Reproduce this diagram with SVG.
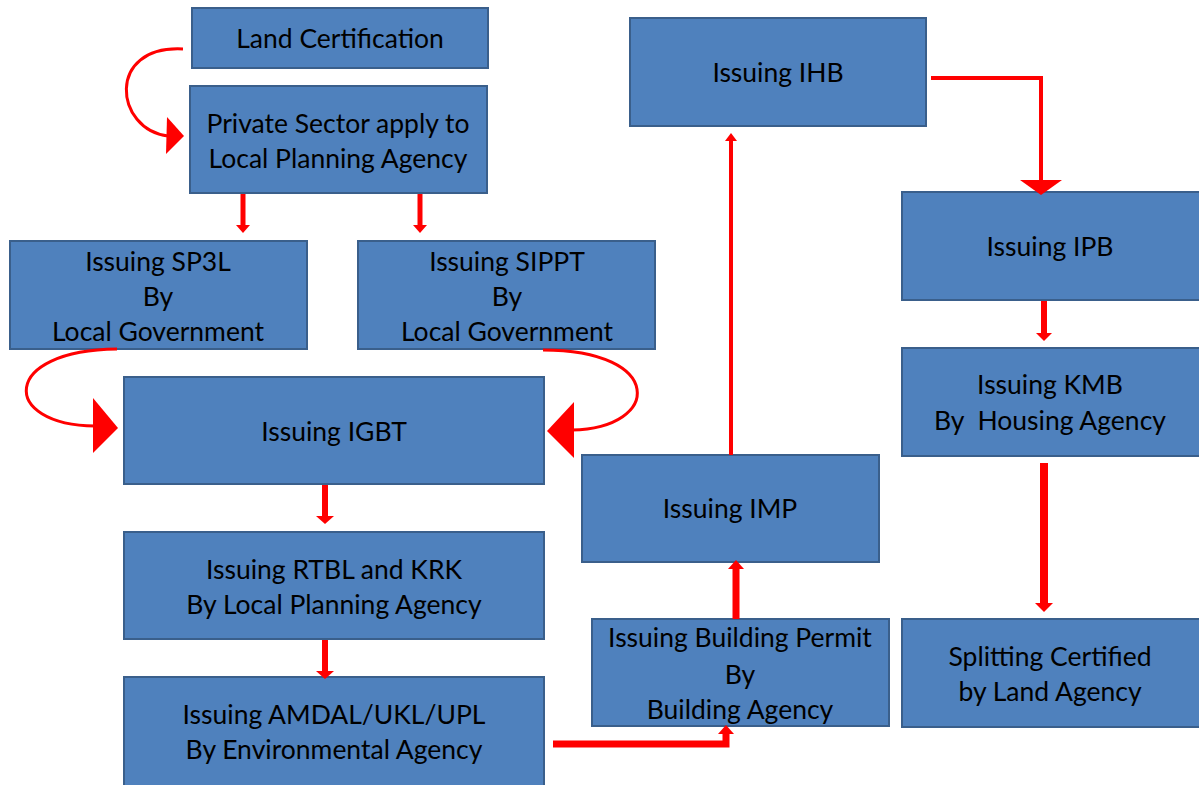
<svg xmlns="http://www.w3.org/2000/svg" width="1199" height="785" viewBox="0 0 1199 785">
<style>
.box{fill:#4F81BD;stroke:#3A5F8B;stroke-width:2}
.t{font-family:Lato,"Liberation Sans",sans-serif;font-size:26.5px;fill:#000;text-anchor:middle}
.ln{fill:none;stroke:#FF0000}
.hd{fill:#FF0000}
</style>
<rect width="1199" height="785" fill="#fff"/>
<g id="n-land"><rect class="box" x="192" y="8" width="296" height="60"/><text class="t" x="340" y="48">Land Certification</text></g>
<g id="n-private"><rect class="box" x="190" y="86" width="297" height="107"/><text class="t" x="338" y="133">Private Sector apply to</text><text class="t" x="338" y="168">Local Planning Agency</text></g>
<g id="n-sp3l"><rect class="box" x="10" y="241" width="297" height="108"/><text class="t" x="158" y="271">Issuing SP3L</text><text class="t" x="158" y="306">By</text><text class="t" x="158" y="341">Local Government</text></g>
<g id="n-sippt"><rect class="box" x="358" y="241" width="297" height="108"/><text class="t" x="507" y="271">Issuing SIPPT</text><text class="t" x="507" y="306">By</text><text class="t" x="507" y="341">Local Government</text></g>
<g id="n-igbt"><rect class="box" x="124" y="377" width="420" height="107"/><text class="t" x="334" y="441">Issuing IGBT</text></g>
<g id="n-rtbl"><rect class="box" x="124" y="532" width="420" height="107"/><text class="t" x="334" y="579">Issuing RTBL and KRK</text><text class="t" x="334" y="614">By Local Planning Agency</text></g>
<g id="n-amdal"><rect class="box" x="124" y="677" width="420" height="110"/><text class="t" x="334" y="724">Issuing AMDAL/UKL/UPL</text><text class="t" x="334" y="759">By Environmental Agency</text></g>
<g id="n-imp"><rect class="box" x="582" y="455" width="297" height="107"/><text class="t" x="730" y="518">Issuing IMP</text></g>
<g id="n-bp"><rect class="box" x="592" y="619" width="297" height="107"/><text class="t" x="740" y="647">Issuing Building Permit</text><text class="t" x="740" y="684">By</text><text class="t" x="740" y="719">Building Agency</text></g>
<g id="n-ihb"><rect class="box" x="630" y="18" width="296" height="108"/><text class="t" x="778" y="82">Issuing IHB</text></g>
<g id="n-ipb"><rect class="box" x="902" y="192" width="298" height="108"/><text class="t" x="1050" y="256">Issuing IPB</text></g>
<g id="n-kmb"><rect class="box" x="902" y="348" width="298" height="108"/><text class="t" x="1050" y="394">Issuing KMB</text><text class="t" x="1050" y="430" xml:space="preserve">By  Housing Agency</text></g>
<g id="n-split"><rect class="box" x="902" y="619" width="298" height="108"/><text class="t" x="1050" y="666">Splitting Certified</text><text class="t" x="1050" y="701">by Land Agency</text></g>
<g id="connectors">
<path class="ln" stroke-width="3" d="M183,49 C105,45 115,130 168,136"/>
<polygon class="hd" points="167,117 184,136 166,154"/>
<path class="ln" stroke-width="3" d="M117,349 C0,350 0,425 95,426"/>
<polygon class="hd" points="93,398 118,428 93,453"/>
<path class="ln" stroke-width="3" d="M543,350 C665,350 662,428 572,430"/>
<polygon class="hd" points="574,402 547,431 574,458"/>
<path class="ln" stroke-width="5" d="M243,194 V226"/>
<polygon class="hd" points="236,225 250,225 243,233"/>
<path class="ln" stroke-width="5" d="M420,194 V226"/>
<polygon class="hd" points="413,225 427,225 420,233"/>
<path class="ln" stroke-width="6" d="M325,485 V517"/>
<polygon class="hd" points="316,516 334,516 325,524"/>
<path class="ln" stroke-width="6" d="M325,640 V672"/>
<polygon class="hd" points="316,671 334,671 325,679"/>
<path class="ln" stroke-width="7" d="M553,744 H726 V733"/>
<polygon class="hd" points="718,734 734,734 726,725"/>
<path class="ln" stroke-width="7" d="M736,619 V567"/>
<polygon class="hd" points="728,569 744,569 736,560"/>
<path class="ln" stroke-width="4" d="M731,455 V140"/>
<polygon class="hd" points="725,141 737,141 731,133"/>
<path class="ln" stroke-width="4" d="M931,78 H1041 V182"/>
<polygon class="hd" points="1020,180 1062,180 1041,195"/>
<path class="ln" stroke-width="6" d="M1044,301 V334"/>
<polygon class="hd" points="1036,333 1052,333 1044,341"/>
<path class="ln" stroke-width="8" d="M1044,463 V605"/>
<polygon class="hd" points="1035,603 1053,603 1044,612"/>
</g>
</svg>
